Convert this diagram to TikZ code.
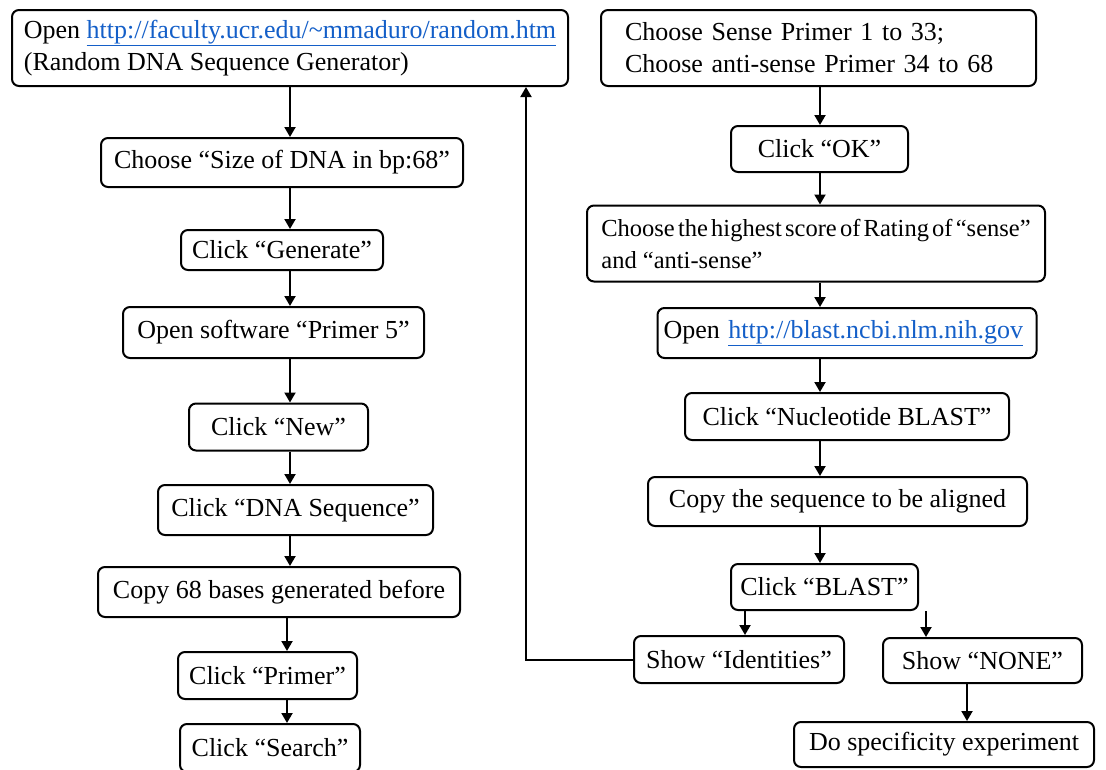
\documentclass[tikz,border=0pt]{standalone}
\usepackage{fontspec}
\setmainfont{Liberation Serif}
\usepackage{xcolor}
\usetikzlibrary{arrows.meta,calc}
\definecolor{linkblue}{RGB}{20,95,200}
\newcommand{\weblink}[1]{\textcolor{linkblue}{\underline{#1}}}

\tikzset{
	box/.style={draw,line width=2pt,rounded corners=7pt,inner sep=0pt,
		font=\fontsize{26}{32}\selectfont},
	arr/.style={line width=2pt,-{Triangle[length=10pt,width=11pt]}}
}

\begin{document}
\begin{tikzpicture}[x=1pt,y=-1pt]
	\useasboundingbox (0,0) rectangle (1106,769);
	\coordinate (colL) at (290,0);
	\coordinate (colLb) at (287,0);
	\coordinate (colR) at (820,0);
	\coordinate (splitA) at (745,0);
	\coordinate (splitB) at (926,0);
	\coordinate (splitC) at (967,0);
	\coordinate (back) at (526,0);
	% left column
	\node[box,minimum width=556pt,minimum height=76pt,align=left] (open) at (290,48)
		{Open \weblink{http://faculty.ucr.edu/\textasciitilde mmaduro/random.htm}\\(Random DNA Sequence Generator)};
	\node[box,minimum width=362pt,minimum height=49pt] (size) at (282,162.5) {Choose ``Size of DNA in bp:68''};
	\node[box,minimum width=202pt,minimum height=40pt] (gen) at (282,250) {Click ``Generate''};
	\node[box,minimum width=301pt,minimum height=51pt] (soft) at (273.5,332.5) {Open software ``Primer 5''};
	\node[box,minimum width=179pt,minimum height=47pt] (new) at (278.5,427) {Click ``New''};
	\node[box,minimum width=275pt,minimum height=50pt] (dna) at (295.5,510) {Click ``DNA Sequence''};
	\node[box,minimum width=362pt,minimum height=50pt] (copy) at (279,592) {Copy 68 bases generated before};
	\node[box,minimum width=179pt,minimum height=47pt] (primer) at (267.5,675.5) {Click ``Primer''};
	\node[box,minimum width=180pt,minimum height=48pt] (search) at (270,748) {Click ``Search''};
	% right column
	\node[box,minimum width=435pt,minimum height=76pt,inner xsep=24pt,text width=387pt,align=left] (sense) at (818.5,48)
		{Choose Sense Primer 1 to 33;\\Choose anti-sense Primer 34 to 68};
	\node[box,minimum width=177pt,minimum height=46pt] (ok) at (819.5,149) {Click ``OK''};
	\node[box,minimum width=458pt,minimum height=76pt,align=left,font=\fontsize{24.5}{32}\selectfont] (score) at (816,243.5)
		{\spaceskip=3.2pt plus 1pt\relax Choose the highest score of Rating of ``sense''\\and ``anti-sense''};
	\node[box,minimum width=379pt,minimum height=50pt,inner xsep=6pt,text width=367pt,align=left] (ncbi) at (847,333) {Open \weblink{http://blast.ncbi.nlm.nih.gov}};
	\node[box,minimum width=324pt,minimum height=47pt] (nuc) at (847,416.5) {Click ``Nucleotide BLAST''};
	\node[box,minimum width=379pt,minimum height=49pt] (seq) at (837.5,501.5) {Copy the sequence to be aligned};
	\node[box,minimum width=187pt,minimum height=46pt] (blast) at (824.5,587) {Click ``BLAST''};
	\node[box,minimum width=210pt,minimum height=47pt] (ident) at (739,659.5) {Show ``Identities''};
	\node[box,minimum width=199pt,minimum height=45pt] (none) at (982.5,660.5) {Show ``NONE''};
	\node[box,minimum width=300pt,minimum height=45pt] (spec) at (944,744.5) {Do specificity experiment};

	\foreach \a/\b in {open/size,size/gen,gen/soft,soft/new,new/dna,dna/copy}
		\draw[arr] (\a.south -| colL) -- (\b.north -| colL);
	\draw[arr] (copy.south -| colLb) -- (primer.north -| colLb);
	\draw[arr] (primer.south -| colLb) -- (search.north -| colLb);
	\foreach \a/\b in {sense/ok,ok/score,score/ncbi,ncbi/nuc,nuc/seq,seq/blast}
		\draw[arr] (\a.south -| colR) -- (\b.north -| colR);
	\draw[arr] (blast.south -| splitA) -- (ident.north -| splitA);
	\draw[arr] (blast.south -| splitB) -- (none.north -| splitB);
	\draw[arr] (none.south -| splitC) -- (spec.north -| splitC);
	\draw[arr] (ident.west) -| (open.south -| back);
\end{tikzpicture}
\end{document}
